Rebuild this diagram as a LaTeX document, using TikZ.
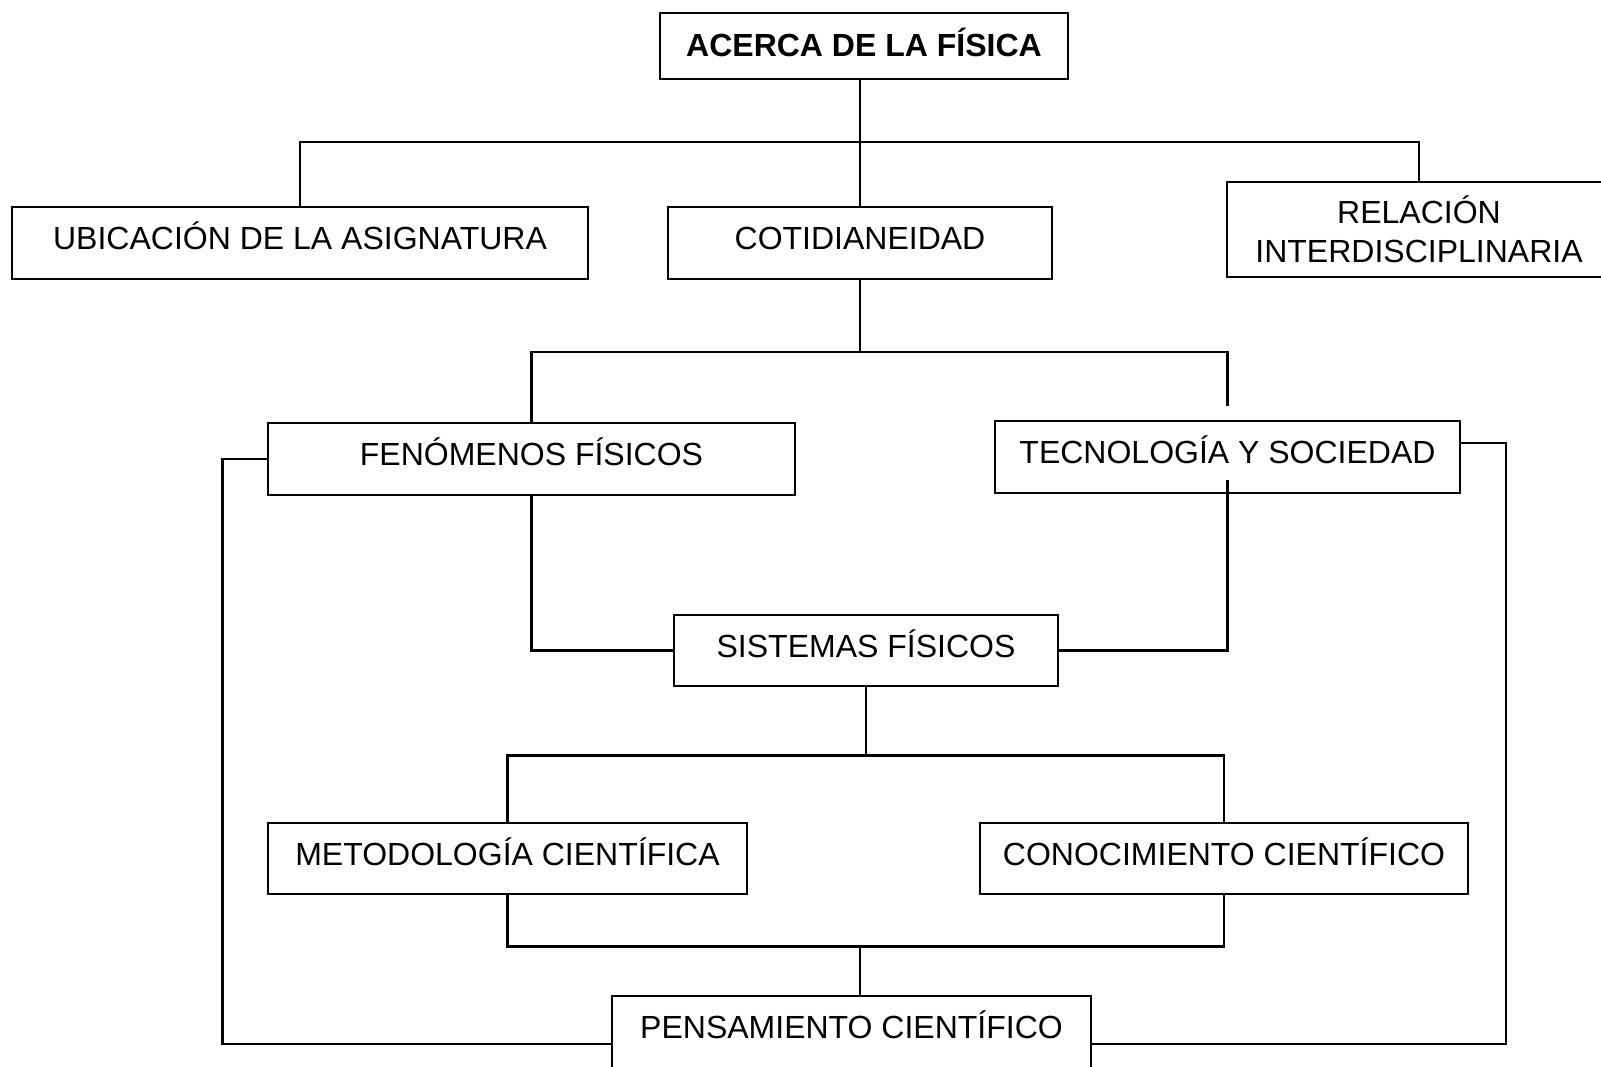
\documentclass[tikz,border=0pt]{standalone}
\usepackage{fontspec}
\setmainfont{Liberation Sans}

\begin{document}
\begin{tikzpicture}[x=0.5pt,y=-0.5pt,
	    box/.style={draw,line width=1.1pt,inner sep=0pt,align=center,
		font=\fontsize{16}{19.5}\selectfont},
	    oneline/.style={text height=11.5pt,text depth=5pt},
	    size/.style 2 args={minimum width=#1*0.5pt,minimum height=#2*0.5pt},
	    wire/.style={line width=1.1pt}]
	    % Page frame (boxes at the right and bottom run past it)
	    \useasboundingbox (0,0) rectangle (1601,1066);
	    \clip (0,0) rectangle (1601,1066);

	    % Setup the boxes:
	    \node [box,oneline,text depth=1pt,size={408}{66},font=\fontsize{16}{19.5}\selectfont\bfseries]
		(acerca) at (864,46) {ACERCA DE LA FÍSICA};
	    \node [box,oneline,size={576}{72}] (ubicacion) at (300,243) {UBICACIÓN DE LA ASIGNATURA};
	    \node [box,oneline,size={384}{72}] (cotid)     at (860,243) {COTIDIANEIDAD};
	    \node [box,size={384}{95}]         (relacion)  at (1419,229.5) {RELACIÓN\\INTERDISCIPLINARIA};

	    \node [box,oneline,size={527}{72}] (fenom)     at (531.5,459) {FENÓMENOS FÍSICOS};
	    \node [box,oneline,size={465}{72}] (tecno)     at (1227.5,457) {TECNOLOGÍA Y SOCIEDAD};
	    \node [box,oneline,size={384}{71}] (sistemas)  at (866,650.5) {SISTEMAS FÍSICOS};

	    \node [box,oneline,size={479}{71}] (metodo)    at (507.5,858.5) {METODOLOGÍA CIENTÍFICA};
	    \node [box,oneline,size={488}{71}] (conoc)     at (1224,858.5) {CONOCIMIENTO CIENTÍFICO};
	    \node [box,oneline,size={479}{72}] (pensam)    at (851.5,1032) {PENSAMIENTO CIENTÍFICO};

	    % Some helper coordinates
	    \coordinate (top bus)    at (0,142);
	    \coordinate (mid bus)    at (0,352);
	    \coordinate (low bus)    at (0,755.5);
	    \coordinate (join)       at (860,946.5);
	    \coordinate (left loop)  at (222.5,1044);
	    \coordinate (right loop) at (1506,1044);

	    % Draw the upper tree
	    \draw [wire] (acerca.south -| cotid.north) -- (cotid.north);
	    \draw [wire] (ubicacion.north) |- (cotid.north |- top bus) -| (relacion.north);

	    % Then the middle one
	    \draw [wire] (cotid.south) -- (cotid.south |- mid bus);
	    \draw [wire] (fenom.north) |- (cotid.south |- mid bus) -| ([yshift=7pt]tecno.north);
	    \draw [wire] (fenom.south) |- (sistemas.west);
	    \draw [wire] ([yshift=7pt]tecno.south) |- (sistemas.east);

	    % And the lower one
	    \draw [wire] (sistemas.south) -- (sistemas.south |- low bus);
	    \draw [wire] (metodo.north) |- (sistemas.south |- low bus) -| (conoc.north);
	    \draw [wire] (metodo.south) |- (join) -| (conoc.south);
	    \draw [wire] (join) -- (join |- pensam.north);

	    % Finally, the two side loops
	    \draw [wire] (fenom.west) -| (left loop) -- (pensam.west |- left loop);
	    \draw [wire] ([yshift=7pt]tecno.east) -| (right loop) -- (pensam.east |- right loop);
	\end{tikzpicture}
\end{document}
